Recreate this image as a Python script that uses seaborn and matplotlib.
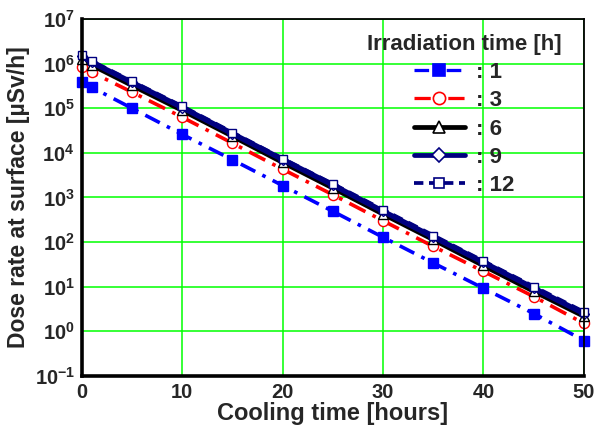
import matplotlib
matplotlib.use("Agg")
import matplotlib.pyplot as plt
import seaborn as sns
import numpy as np
import pandas as pd
from matplotlib.lines import Line2D

# ---- data ----
cooling_time = [0, 1, 5, 10, 15, 20, 25, 30, 35, 40, 45, 50]
dose_1h = [3.8e5, 2.95e5, 1.0e5, 2.6e4, 7.0e3, 1.85e3, 4.9e2, 1.28e2, 34, 9.2, 2.5, 0.62]
dose_3h = [8.5e5, 6.4e5, 2.3e5, 6.3e4, 1.65e4, 4.3e3, 1.15e3, 3.0e2, 80, 22, 6.0, 1.5]
dose_6h = [1.28e6, 9.4e5, 3.3e5, 9.1e4, 2.4e4, 6.2e3, 1.65e3, 4.3e2, 115, 30, 8.0, 2.2]
dose_9h = [1.45e6, 1.07e6, 3.8e5, 1.04e5, 2.7e4, 7.1e3, 1.9e3, 4.9e2, 130, 35, 9.3, 2.5]
dose_12h = [1.55e6, 1.13e6, 4.0e5, 1.1e5, 2.85e4, 7.4e3, 2.0e3, 5.25e2, 140, 37, 10.0, 2.7]
irradiation_labels = ["1", "3", "6", "9", "12"]
x_ticks = [0, 10, 20, 30, 40, 50]
y_exponents = [-1, 0, 1, 2, 3, 4, 5, 6, 7]

sns.set_style("white")
plt.rcParams['font.family'] = ['Liberation Sans', 'DejaVu Sans']
plt.rcParams['font.weight'] = 'bold'
plt.rcParams['mathtext.fontset'] = 'custom'
plt.rcParams['mathtext.rm'] = 'Liberation Sans:bold'
plt.rcParams['mathtext.bf'] = 'Liberation Sans:bold'
plt.rcParams['mathtext.default'] = 'bf'

fig = plt.figure(figsize=(5.97, 4.34), dpi=100)
ax = fig.add_axes([0.137, 0.134, 0.841, 0.822])

series = [dose_1h, dose_3h, dose_6h, dose_9h, dose_12h]
styles = [
    dict(color='#0000FF', lw=2.6, ls=(0, (4.5, 2.2, 1.0, 2.2)), marker='s', ms=6.5,
         mfc='#0000FF', mec='#0000FF', mew=1.0),
    dict(color='#FF0000', lw=2.6, ls=(0, (5.0, 2.2, 1.0, 2.2)), marker='o', ms=7.3,
         mfc='white', mec='#FF0000', mew=1.0),
    dict(color='black', lw=3.8, ls='-', marker='^', ms=6.5,
         mfc='white', mec='black', mew=1.0),
    dict(color='#000080', lw=3.8, ls='-', marker='D', ms=5.5,
         mfc='white', mec='#000080', mew=1.0),
    dict(color='#000080', lw=3.0, ls=(0, (2.5, 1.5)), marker='s', ms=6.2,
         mfc='white', mec='#000080', mew=1.0),
]

for vals, st in zip(series, styles):
    df = pd.DataFrame({"t": cooling_time, "d": vals})
    sns.lineplot(data=df, x="t", y="d", ax=ax, color=st['color'], linewidth=st['lw'],
                 linestyle=st['ls'], marker=st['marker'], markersize=st['ms'],
                 markerfacecolor=st['mfc'], markeredgecolor=st['mec'],
                 markeredgewidth=st['mew'], clip_on=False, legend=False)

ax.set_yscale('log')
ax.set_xlim(0, 50)
ax.set_ylim(10.0 ** y_exponents[0], 10.0 ** y_exponents[-1])
ax.set_xticks(x_ticks)
ax.set_xticklabels([str(t) for t in x_ticks])
ax.set_yticks([10.0 ** e for e in y_exponents])
ax.set_yticklabels([r'$\mathbf{10^{%d}}$' % e for e in y_exponents])
ax.yaxis.set_minor_locator(matplotlib.ticker.NullLocator())
ax.tick_params(axis='both', which='major', direction='in', length=6, width=2,
               labelsize=14.5, pad=5, color='black')
for lab in ax.get_xticklabels():
    lab.set_fontweight('bold')

ax.grid(True, which='major', color='#00FF00', linewidth=1.1)
for name, sp in ax.spines.items():
    sp.set_color('black')
    sp.set_linewidth(2.6 if name in ('left', 'bottom') else 1.3)

ax.set_xlabel("Cooling time [hours]", fontsize=17, fontweight='bold', labelpad=0)
ax.set_ylabel("Dose rate at surface [µSv/h]", fontsize=16.5, fontweight='bold', labelpad=3)

handles = []
for st in styles:
    handles.append(Line2D([], [], color=st['color'], lw=st['lw'] * 0.9, ls=st['ls'],
                          marker=st['marker'], ms=st['ms'] + 1.5, mfc=st['mfc'],
                          mec=st['mec'], mew=1.2))
leg = ax.legend(handles, [": " + l for l in irradiation_labels],
                title="Irradiation time [h]", loc='upper center',
                bbox_to_anchor=(0.761, 0.972), frameon=False, fontsize=16,
                title_fontproperties={'weight': 'bold', 'size': 16},
                handlelength=2.3, handletextpad=0.5, labelspacing=0.33,
                borderaxespad=0.0, borderpad=0.2)
for t in leg.get_texts():
    t.set_fontweight('bold')

fig.savefig("out.png", dpi=100)
